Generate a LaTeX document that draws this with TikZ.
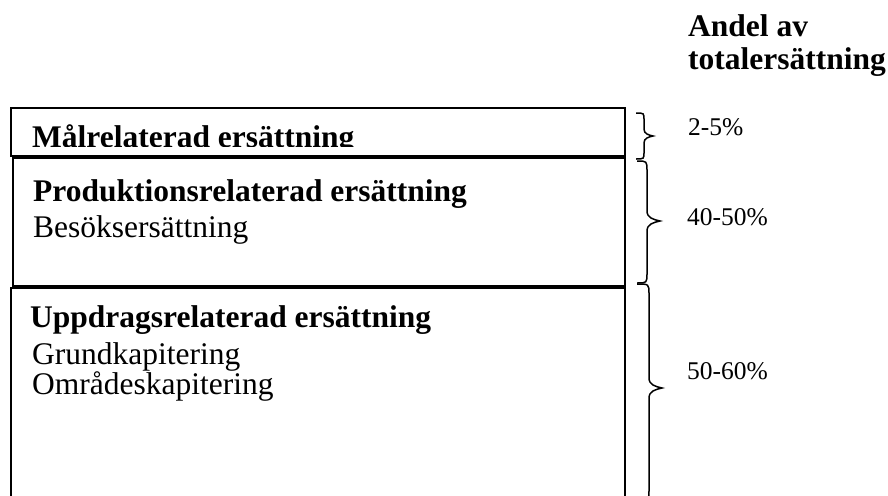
\documentclass[tikz,border=0pt]{standalone}
\usepackage{fontspec}
\setmainfont{Liberation Serif}
\newcommand\wbrace[7]{%
  \draw[bracestyle] (#1,#2) .. controls (#4,#2) .. (#4,#2+#7) -- (#4,#6-#7)
    .. controls (#4,#6-0.3*#7) and ({#4+0.5*(#5-#4)},#6-0.15*#7) .. (#5,#6)
    .. controls ({#4+0.5*(#5-#4)},#6+0.15*#7) and (#4,#6+0.3*#7) .. (#4,#6+#7)
    -- (#4,#3-#7) .. controls (#4,#3) .. (#1,#3);}
\tikzset{
  boxstyle/.style={draw=black, line width=2pt},
  bracestyle/.style={draw=black, line width=1.5pt, line join=miter},
  head/.style={anchor=base west, inner sep=0pt, font=\fontsize{31.5}{31.5}\selectfont\bfseries},
  body/.style={anchor=base west, inner sep=0pt, font=\fontsize{31.5}{31.5}\selectfont},
  pct/.style={anchor=base west, inner sep=0pt, font=\fontsize{25.5}{25.5}\selectfont},
}
\begin{document}
\begin{tikzpicture}[x=1pt,y=-1pt]
\useasboundingbox (0,0) rectangle (888,495);
\clip (0,0) rectangle (888,495);
% box 1
\begin{scope}
  \clip (11,108) rectangle (625,146.5);
  \node[head] (t1) at (32,147) {Målrelaterad ersättning};
\end{scope}
\draw[boxstyle] (11,108) rectangle (625,156);
% box 2
\draw[boxstyle] (13,158) rectangle (625,286);
\node[head] (t2) at (33,201) {Produktionsrelaterad ersättning};
\node[body] (t2a) at (33,237) {Besöksersättning};
% box 3
\draw[boxstyle] (11,288) rectangle (625,530);
\node[head] (t3) at (30,327) {Uppdragsrelaterad ersättning};
\node[body] (t3a) at (32,364) {Grundkapitering};
\node[body] (t3b) at (32,394) {Områdeskapitering};
% header
\node[head] (h1) at (688,37) {Andel av};
\node[head] (h2) at (688,70) {totalersättning};
% braces
\wbrace{636}{113}{159}{644}{653}{136}{7}
\wbrace{637}{161}{283}{647}{660}{221}{10}
\wbrace{637}{284}{500}{649}{662}{388}{10}
% percentages
\node[pct] (p1) at (688,135) {2-5\%};
\node[pct] (p2) at (687,225) {40-50\%};
\node[pct] (p3) at (687,379) {50-60\%};
\end{tikzpicture}
\end{document}
